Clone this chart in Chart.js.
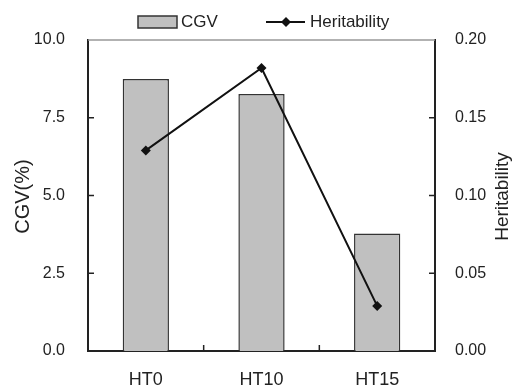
<!DOCTYPE html>
<html>
<head>
<meta charset="utf-8">
<title>CGV / Heritability</title>
<script src="https://cdn.jsdelivr.net/npm/chart.js@4/dist/chart.umd.min.js"></script>
<style>
  html, body { margin: 0; padding: 0; background: #fff; }
  #wrap { width: 514px; height: 389px; position: relative; }
</style>
</head>
<body>
<div id="wrap"><canvas id="chart"></canvas></div>
<script>
// ===== 数据 =====
const categories = ["HT0", "HT10", "HT15"];
const cgvValues = [8.75, 8.26, 3.78];          // CGV(%)
const heritValues = [0.129, 0.182, 0.029];     // Heritability
const cgvTicks = [0, 2.5, 5, 7.5, 10];
const heritTicks = [0, 0.05, 0.1, 0.15, 0.2];

// ===== 样式 =====
const FONT = "Liberation Sans, Arial, sans-serif";
const TEXT = "#222";
const AXIS = "#222";
const BAR_FILL = "#c0c0c0";
const BAR_EDGE = "#333";
const TICK_LEN = 6;

const $ = (id) => document.getElementById(id);

// 向内的小刻度 + 上边框
const frameTicks = {
  id: "frameTicks",
  afterDraw(chart) {
    const { ctx, chartArea: a, scales } = chart;
    ctx.save();
    ctx.strokeStyle = "#999";
    ctx.lineWidth = 1.5;
    ctx.beginPath();
    ctx.moveTo(a.left, a.top);
    ctx.lineTo(a.right, a.top);
    ctx.stroke();

    ctx.strokeStyle = AXIS;
    ctx.lineWidth = 1.5;
    ctx.beginPath();
    cgvTicks.slice(1, -1).forEach((v) => {
      const y = scales.y.getPixelForValue(v);
      ctx.moveTo(a.left, y);
      ctx.lineTo(a.left + TICK_LEN, y);
    });
    heritTicks.slice(1, -1).forEach((v) => {
      const y = scales.y1.getPixelForValue(v);
      ctx.moveTo(a.right - TICK_LEN, y);
      ctx.lineTo(a.right, y);
    });
    for (let i = 1; i < categories.length; i++) {
      const x = (scales.x.getPixelForValue(i - 1) + scales.x.getPixelForValue(i)) / 2;
      ctx.moveTo(x, a.bottom);
      ctx.lineTo(x, a.bottom - TICK_LEN);
    }
    ctx.stroke();
    ctx.restore();
  },
};

// 轴标题（两侧都自下而上）
const axisTitles = {
  id: "axisTitles",
  afterDraw(chart) {
    const { ctx, chartArea: a } = chart;
    const midY = (a.top + a.bottom) / 2 + 1;
    ctx.save();
    ctx.fillStyle = TEXT;
    ctx.textAlign = "center";
    ctx.textBaseline = "middle";
    [["CGV(%)", 23, 20], ["Heritability", 503, 19]].forEach(([txt, x, size]) => {
      ctx.save();
      ctx.font = `${size}px ${FONT}`;
      ctx.translate(x, midY);
      ctx.rotate(-Math.PI / 2);
      ctx.fillText(txt, 0, 0);
      ctx.restore();
    });
    ctx.restore();
  },
};

// 图例
const topLegend = {
  id: "topLegend",
  afterDraw(chart) {
    const { ctx } = chart;
    const cy = 22;
    ctx.save();
    ctx.font = `17px ${FONT}`;
    ctx.textBaseline = "middle";

    // CGV 方块
    ctx.fillStyle = BAR_FILL;
    ctx.fillRect(138, 16, 39, 12);
    ctx.strokeStyle = BAR_EDGE;
    ctx.lineWidth = 1.5;
    ctx.strokeRect(138, 16, 39, 12);
    ctx.fillStyle = TEXT;
    ctx.fillText(chart.data.datasets[0].label, 181, cy);

    // Heritability 折线 + 菱形
    ctx.strokeStyle = "#111";
    ctx.lineWidth = 2;
    ctx.beginPath();
    ctx.moveTo(266, cy);
    ctx.lineTo(305, cy);
    ctx.stroke();
    ctx.fillStyle = "#111";
    ctx.beginPath();
    ctx.moveTo(286, cy - 5);
    ctx.lineTo(291, cy);
    ctx.lineTo(286, cy + 5);
    ctx.lineTo(281, cy);
    ctx.closePath();
    ctx.fill();
    ctx.fillStyle = TEXT;
    ctx.fillText(chart.data.datasets[1].label, 310, cy);
    ctx.restore();
  },
};

new Chart($("chart"), {
  type: "bar",
  data: {
    labels: categories,
    datasets: [
      {
        type: "bar",
        label: "CGV",
        data: cgvValues,
        yAxisID: "y",
        backgroundColor: BAR_FILL,
        borderColor: BAR_EDGE,
        borderWidth: 1.5,
        categoryPercentage: 1,
        barPercentage: 0.4,
        order: 1,
      },
      {
        type: "line",
        label: "Heritability",
        data: heritValues,
        yAxisID: "y1",
        borderColor: "#111",
        borderWidth: 2,
        backgroundColor: "#111",
        pointStyle: "rectRot",
        pointRadius: 5,
        pointBorderWidth: 0,
        tension: 0,
        order: 0,
      },
    ],
  },
  options: {
    responsive: true,
    maintainAspectRatio: false,
    animation: false,
    devicePixelRatio: 1,
    layout: { padding: { top: 40, left: 0, right: 0, bottom: 0 } },
    scales: {
      x: {
        offset: true,
        grid: { display: false },
        border: { color: AXIS, width: 2 },
        ticks: { color: TEXT, font: { family: FONT, size: 18 }, padding: 10 },
        afterFit(s) { s.height = 38; },
      },
      y: {
        position: "left",
        min: 0,
        max: 10,
        afterBuildTicks(s) { s.ticks = cgvTicks.map((v) => ({ value: v })); },
        grid: { display: false },
        border: { color: AXIS, width: 2 },
        ticks: {
          color: TEXT,
          font: { family: FONT, size: 16 },
          padding: 15,
          callback: (v) => Number(v).toFixed(1),
        },
        afterFit(s) { s.width = 88; },
      },
      y1: {
        position: "right",
        min: 0,
        max: 0.2,
        afterBuildTicks(s) { s.ticks = heritTicks.map((v) => ({ value: v })); },
        grid: { display: false },
        border: { color: AXIS, width: 2 },
        ticks: {
          color: TEXT,
          font: { family: FONT, size: 16 },
          padding: 12,
          callback: (v) => Number(v).toFixed(2),
        },
        afterFit(s) { s.width = 79; },
      },
    },
    plugins: {
      legend: { display: false },
      tooltip: { enabled: false },
    },
  },
  plugins: [frameTicks, axisTitles, topLegend],
});
</script>
</body>
</html>
